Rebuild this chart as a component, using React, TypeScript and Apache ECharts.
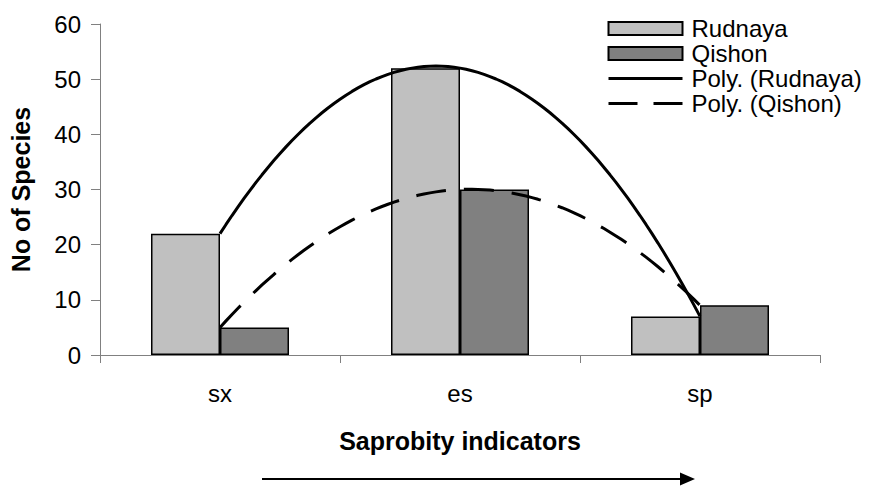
import React, { useEffect, useRef } from "react";
import * as echarts from "echarts";

const categories = ["sx", "es", "sp"];
const rudnaya = [22, 52, 7];
const qishon = [5, 30, 9];
const yTicks = { min: 0, max: 60, interval: 10 };

const FONT = '"Liberation Sans", Arial, Helvetica, sans-serif';

// Least-squares polynomial fit (order 2), like a spreadsheet "Poly." trendline.
function polyfit(xs: number[], ys: number[], order: number): number[] {
  const n = order + 1;
  const A: number[][] = Array.from({ length: n }, () => new Array(n + 1).fill(0));
  for (let r = 0; r < n; r++) {
    for (let c = 0; c < n; c++) {
      A[r][c] = xs.reduce((s, x) => s + Math.pow(x, r + c), 0);
    }
    A[r][n] = xs.reduce((s, x, i) => s + Math.pow(x, r) * ys[i], 0);
  }
  for (let p = 0; p < n; p++) {
    let best = p;
    for (let r = p + 1; r < n; r++) if (Math.abs(A[r][p]) > Math.abs(A[best][p])) best = r;
    [A[p], A[best]] = [A[best], A[p]];
    for (let r = 0; r < n; r++) {
      if (r === p) continue;
      const f = A[r][p] / A[p][p];
      for (let c = p; c <= n; c++) A[r][c] -= f * A[p][c];
    }
  }
  return A.map((row, i) => row[n] / row[i]);
}

// Trendline sampled between the first and last category centres.
function trend(values: number[]): number[][] {
  const xs = values.map((_, i) => i + 1);
  const coef = polyfit(xs, values, 2);
  const pts: number[][] = [];
  const steps = 80;
  for (let k = 0; k <= steps; k++) {
    const x = xs[0] + ((xs[xs.length - 1] - xs[0]) * k) / steps;
    const y = coef.reduce((s, c, p) => s + c * Math.pow(x, p), 0);
    pts.push([x, y]);
  }
  return pts;
}

const DASH = [29, 16];

export default function App() {
  const ref = useRef<HTMLDivElement>(null);

  useEffect(() => {
    if (!ref.current) return;
    const chart = echarts.init(ref.current, null, { renderer: "svg" });
    const axisGray = "#808080";
    const hiddenSymbol = { color: "rgba(0,0,0,0)", opacity: 0, borderWidth: 0 };
    chart.setOption({
      animation: false,
      backgroundColor: "#ffffff",
      textStyle: { fontFamily: FONT },
      grid: { left: 100, right: 52, top: 24, bottom: 134, containLabel: false },
      legend: {
        orient: "vertical",
        left: 602,
        top: 11,
        itemWidth: 74,
        itemHeight: 13,
        itemGap: 0,
        textStyle: {
          fontSize: 24,
          lineHeight: 25,
          color: "#000",
          fontFamily: FONT,
          padding: [0, 0, 0, 4],
        },
        data: [
          { name: "Rudnaya", icon: "rect" },
          { name: "Qishon", icon: "rect" },
          { name: "Poly. (Rudnaya)", itemStyle: hiddenSymbol, lineStyle: { width: 3, color: "#000" } },
          {
            name: "Poly. (Qishon)",
            itemStyle: hiddenSymbol,
            lineStyle: { width: 3, color: "#000", type: DASH },
          },
        ],
      },
      xAxis: [
        {
          type: "category",
          data: categories,
          boundaryGap: true,
          axisLine: { lineStyle: { color: axisGray, width: 1 } },
          axisTick: { show: true, length: 8, lineStyle: { color: axisGray } },
          axisLabel: { fontSize: 24, color: "#000", margin: 26, fontFamily: FONT },
          name: "Saprobity indicators",
          nameLocation: "middle",
          nameGap: 73,
          nameTextStyle: { fontSize: 25, fontWeight: "bold", color: "#000", fontFamily: FONT },
        },
        {
          type: "value",
          min: 0.5,
          max: 3.5,
          show: false,
        },
      ],
      yAxis: {
        type: "value",
        min: yTicks.min,
        max: yTicks.max,
        interval: yTicks.interval,
        axisLine: { show: true, lineStyle: { color: axisGray, width: 1 } },
        axisTick: { show: true, length: 9, lineStyle: { color: axisGray } },
        splitLine: { show: false },
        axisLabel: { fontSize: 24, color: "#000", margin: 19, fontFamily: FONT },
        name: "No of Species",
        nameLocation: "middle",
        nameGap: 67,
        nameTextStyle: { fontSize: 25, fontWeight: "bold", color: "#000", fontFamily: FONT },
      },
      series: [
        {
          name: "Rudnaya",
          type: "bar",
          data: rudnaya,
          barGap: "0%",
          barCategoryGap: "42.5%",
          itemStyle: { color: "#c0c0c0", borderColor: "#000", borderWidth: 1.5 },
        },
        {
          name: "Qishon",
          type: "bar",
          data: qishon,
          barGap: "0%",
          barCategoryGap: "42.5%",
          itemStyle: { color: "#808080", borderColor: "#000", borderWidth: 1.5 },
        },
        {
          name: "Poly. (Rudnaya)",
          type: "line",
          xAxisIndex: 1,
          data: trend(rudnaya),
          symbol: "none",
          lineStyle: { color: "#000", width: 3 },
          itemStyle: { color: "#000" },
          z: 5,
        },
        {
          name: "Poly. (Qishon)",
          type: "line",
          xAxisIndex: 1,
          data: trend(qishon),
          symbol: "none",
          lineStyle: { color: "#000", width: 3, type: [30, 18] },
          itemStyle: { color: "#000" },
          z: 5,
        },
      ],
      graphic: [
        {
          type: "line",
          shape: { x1: 262, y1: 479, x2: 682, y2: 479 },
          style: { stroke: "#000", lineWidth: 2 },
        },
        {
          type: "polygon",
          shape: { points: [[680, 472.5], [695, 479], [680, 485.5]] },
          style: { fill: "#000" },
        },
      ],
    });
    return () => chart.dispose();
  }, []);

  return (
    <div
      ref={ref}
      style={{ position: "fixed", left: 0, top: 0, width: 872, height: 489 }}
    />
  );
}
